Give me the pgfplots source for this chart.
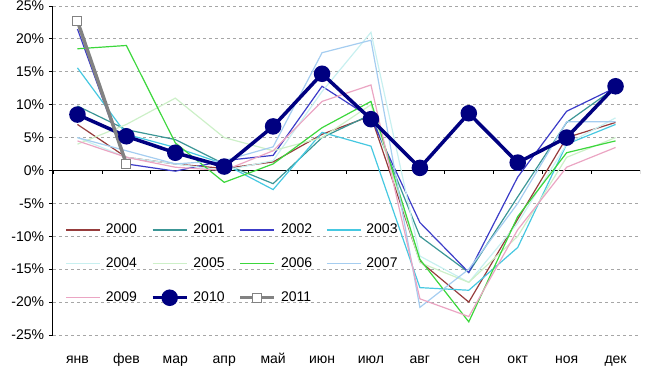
\documentclass[border=0pt]{standalone}
\usepackage{fontspec}
\setmainfont{Liberation Sans}
\usepackage{pgfplots}
\pgfplotsset{compat=1.18}
\definecolor{c2000}{RGB}{150,60,60}
\definecolor{c2001}{RGB}{60,150,150}
\definecolor{c2002}{RGB}{60,60,200}
\definecolor{c2003}{RGB}{70,200,225}
\definecolor{c2004}{RGB}{200,240,240}
\definecolor{c2005}{RGB}{205,240,200}
\definecolor{c2006}{RGB}{60,215,60}
\definecolor{c2007}{RGB}{165,205,240}
\definecolor{c2009}{RGB}{235,165,195}
\definecolor{c2010}{RGB}{0,0,128}
\definecolor{c2011}{RGB}{130,130,130}
\begin{document}
\fontsize{14}{16}\selectfont
\begin{tikzpicture}
\begin{axis}[name=ax, scale only axis, width=587pt, height=329pt,
 xmin=0.5, xmax=12.5, ymin=-25, ymax=25,
 axis y line*=left, axis x line*=bottom, x axis line style={draw=none},
 xtick={1,...,12},
 xticklabels={янв,фев,мар,апр,май,июн,июл,авг,сен,окт,ноя,дек},
 x tick style={draw=none}, xticklabel style={yshift=-9pt, text height=1.5ex, text depth=0.25ex},
 ytick={-25,-20,...,25},
 yticklabel={\pgfmathprintnumber{\tick}\%},
 /pgf/number format/assume math mode=true,
 ticklabel style={font=\fontsize{14}{16}\selectfont},
 ymajorgrids, grid style={dashed, black!35, line width=0.8pt},
 tick align=outside, major tick length=4pt,
 y tick style={black, line width=0.8pt},
 y axis line style={black, line width=1pt},
 every axis plot/.append style={line width=1.2pt},
 legend columns=4,
 legend cell align=left,
 legend style={draw=none, fill=none, at={(0.016,0.35)}, anchor=north west,
   font=\fontsize{14}{16}\selectfont,
   /tikz/every odd column/.append style={column sep=3pt},
   /tikz/every even column/.append style={column sep=12pt},
   /tikz/row sep=18pt},
 legend image code/.code={\draw[mark repeat=2,mark phase=2,#1] plot coordinates {(0pt,0pt) (17pt,0pt) (34pt,0pt)};},
]
\pgfplotsinvokeforeach{0.5,1.5,...,12.5}{\draw[black, line width=0.8pt] (axis cs:#1,0) -- ([yshift=-4pt]axis cs:#1,0);}
\draw[black, line width=0.8pt] (axis cs:0.5,0) -- (axis cs:12.5,0);
\addplot[c2000] coordinates {(1,7.0) (2,2.0) (3,1.0) (4,0.3) (5,1.3) (6,5.5) (7,8.3) (8,-13.8) (9,-20.0) (10,-7.4) (11,5.0) (12,7.3)};
\addlegendentry{2000}
\addplot[c2001] coordinates {(1,9.8) (2,6.2) (3,4.7) (4,1.0) (5,-2.0) (6,5.0) (7,8.5) (8,-10.0) (9,-15.5) (10,-4.0) (11,7.3) (12,12.6)};
\addlegendentry{2001}
\addplot[c2002] coordinates {(1,21.5) (2,1.0) (3,-0.1) (4,1.5) (5,2.3) (6,12.8) (7,8.0) (8,-7.9) (9,-15.5) (10,-1.0) (11,9.0) (12,12.6)};
\addlegendentry{2002}
\addplot[c2003] coordinates {(1,15.6) (2,5.5) (3,3.5) (4,1.0) (5,-2.9) (6,5.8) (7,3.7) (8,-17.8) (9,-18.2) (10,-11.7) (11,4.0) (12,7.0)};
\addlegendentry{2003}
\addplot[c2004] coordinates {(1,5.0) (2,2.0) (3,1.0) (4,0.0) (5,1.5) (6,12.0) (7,21.0) (8,-13.0) (9,-17.0) (10,-8.0) (11,4.0) (12,8.0)};
\addlegendentry{2004}
\addplot[c2005] coordinates {(1,4.0) (2,7.0) (3,11.0) (4,5.0) (5,3.0) (6,5.0) (7,10.0) (8,-14.0) (9,-17.0) (10,-10.0) (11,2.0) (12,5.0)};
\addlegendentry{2005}
\addplot[c2006] coordinates {(1,18.5) (2,19.0) (3,4.2) (4,-1.8) (5,1.0) (6,6.5) (7,10.5) (8,-13.5) (9,-23.0) (10,-7.0) (11,2.7) (12,4.5)};
\addlegendentry{2006}
\addplot[c2007] coordinates {(1,5.0) (2,3.0) (3,1.0) (4,1.5) (5,3.6) (6,17.9) (7,19.8) (8,-20.8) (9,-15.0) (10,-5.0) (11,7.4) (12,7.4)};
\addlegendentry{2007}
\addplot[c2009] coordinates {(1,4.5) (2,2.0) (3,0.5) (4,0.0) (5,3.0) (6,10.5) (7,13.0) (8,-19.5) (9,-22.2) (10,-9.0) (11,0.5) (12,3.5)};
\addlegendentry{2009}
\addplot[c2010, line width=3.5pt, mark=*, mark size=6.5pt] coordinates {(1,8.5) (2,5.2) (3,2.7) (4,0.6) (5,6.7) (6,14.7) (7,7.8) (8,0.4) (9,8.7) (10,1.2) (11,5.0) (12,12.8)};
\addlegendentry{2010}
\addplot[c2011, line width=3.5pt, mark=square*, mark size=4.5pt, mark options={fill=white, draw=c2011, line width=1pt}] coordinates {(1,22.7) (2,1.0)};
\addlegendentry{2011}
\end{axis}
\pgfresetboundingbox
\path ([shift={(-53pt,-42pt)}]ax.south west) rectangle ([shift={(10pt,6pt)}]ax.north east);
\end{tikzpicture}
\end{document}
